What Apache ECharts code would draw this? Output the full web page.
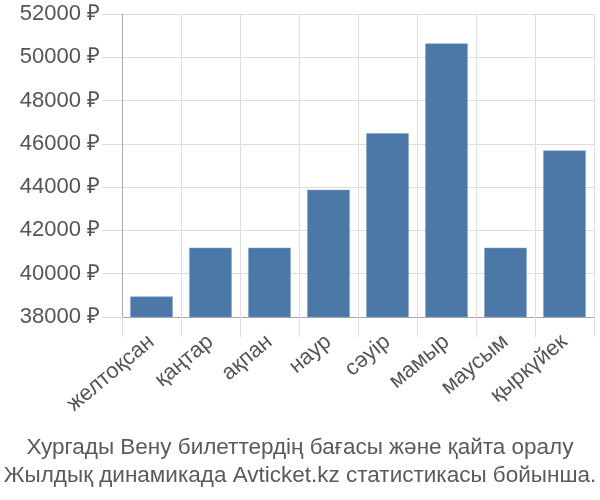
<!DOCTYPE html>
<html><head><meta charset="utf-8">
<script src="https://cdn.jsdelivr.net/npm/echarts@6/dist/echarts.min.js"></script>
<style>html,body{margin:0;padding:0;background:#fff}#c{width:600px;height:500px}</style>
</head><body><div id="c"></div>
<script>
const categories = ['желтоқсан','қаңтар','ақпан','наур','сәуір','мамыр','маусым','қыркүйек'];
const prices = [38950, 41200, 41200, 43880, 46490, 50640, 41200, 45690];
const yTicks = {min: 38000, max: 52000, interval: 2000};
const titleLines = ['Хургады Вену билеттердің бағасы және қайта оралу', 'Жылдық динамикада Avticket.kz статистикасы бойынша.'];

const chart = echarts.init(document.getElementById('c'), null, {renderer: 'canvas'});
const font = 'Liberation Sans, Arial, sans-serif';
chart.setOption({
  animation: false,
  textStyle: {fontFamily: font},
  title: {
    text: titleLines.join('\n'),
    left: 'center', top: 429,
    textStyle: {fontFamily: font, fontSize: 22.5, fontWeight: 'normal', color: '#5a5a5a', lineHeight: 28}
  },
  grid: {left: 122, right: 6, top: 14, bottom: 183},
  xAxis: {
    type: 'category', data: categories, boundaryGap: true,
    axisLine: {show: true, lineStyle: {color: '#aaa', width: 1}},
    axisTick: {show: true, length: 20, lineStyle: {color: '#ddd'}},
    splitLine: {show: true, lineStyle: {color: '#ddd'}},
    axisLabel: {rotate: 40, fontSize: 22, color: '#555', fontFamily: font, margin: 22, interval: 0}
  },
  yAxis: {
    type: 'value', min: yTicks.min, max: yTicks.max, interval: yTicks.interval,
    axisLine: {show: true, lineStyle: {color: '#aaa', width: 1}},
    axisTick: {show: true, length: 20, lineStyle: {color: '#ddd'}},
    splitLine: {show: true, lineStyle: {color: '#ddd'}},
    axisLabel: {fontSize: 22, color: '#555', fontFamily: font, margin: 22, formatter: v => v + ' ₽'}
  },
  series: [{
    type: 'bar', data: prices, barWidth: '72%',
    itemStyle: {color: '#4c78a8', borderColor: '#7f9fc4', borderWidth: 0.5}
  }]
});
</script></body></html>
